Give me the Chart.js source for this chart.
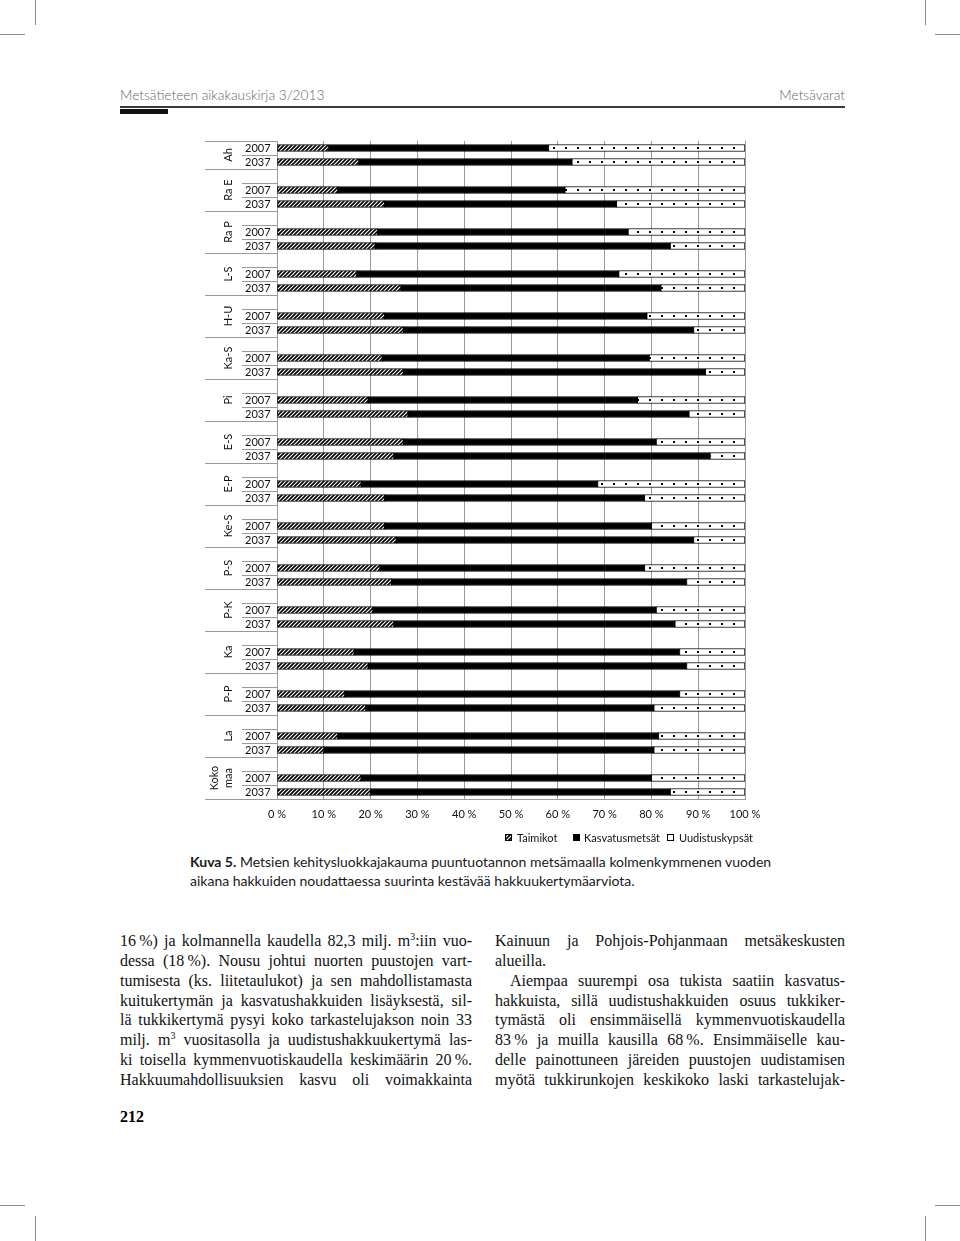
<!DOCTYPE html>
<html>
<head>
<meta charset="utf-8">
<script src="https://cdn.jsdelivr.net/npm/chart.js@4.4.0/dist/chart.umd.min.js"></script>
<style>
  body { margin: 0; width: 960px; height: 1241px; position: relative; background: #fff; overflow: hidden; }
  .mark { position: absolute; background: #8c8c8c; }
  .hdr { position: absolute; top: 86px; font-family: Lato, sans-serif; font-weight: 300; font-size: 13.7px; color: #666; }
  .rule { position: absolute; left: 120px; top: 106px; width: 725px; height: 2px; background: #3a3a3a; }
  .tab { position: absolute; left: 120px; top: 109px; width: 48px; height: 5px; background: #111; }
  #wrap { position: absolute; left: 200px; top: 129px; width: 570px; height: 720px; }
  .cap { position: absolute; left: 190px; font-family: Lato, sans-serif; font-size: 14px; color: #1a1a1a; white-space: nowrap; }
  .col { position: absolute; top: 931px; font-family: "Liberation Serif", serif; font-size: 16px; line-height: 19.85px; color: #111; }
  .col div { white-space: nowrap; text-align: justify; text-align-last: justify; }
  .col div.end { text-align-last: left; }
  .col sup { font-size: 10px; line-height: 0; vertical-align: 6px; }
  .pg { position: absolute; left: 120px; top: 1108px; font-family: "Liberation Serif", serif; font-weight: bold; font-size: 16px; }
</style>
</head>
<body>
<div class="mark" style="left:35px;top:0;width:1px;height:25px"></div>
<div class="mark" style="left:0;top:34px;width:25px;height:1px"></div>
<div class="mark" style="left:925px;top:0;width:1px;height:25px"></div>
<div class="mark" style="left:935px;top:34px;width:25px;height:1px"></div>
<div class="mark" style="left:35px;top:1216px;width:1px;height:25px"></div>
<div class="mark" style="left:0;top:1205px;width:25px;height:1px"></div>
<div class="mark" style="left:925px;top:1216px;width:1px;height:25px"></div>
<div class="mark" style="left:935px;top:1205px;width:25px;height:1px"></div>

<div class="hdr" style="left:120px">Metsätieteen aikakauskirja 3/2013</div>
<div class="hdr" style="right:115px">Metsävarat</div>
<div class="rule"></div>
<div class="tab"></div>

<div id="wrap"><canvas id="chart" width="570" height="720"></canvas></div>

<div class="cap" style="top:853px"><b>Kuva 5.</b> Metsien kehitysluokkajakauma puuntuotannon metsämaalla kolmenkymmenen vuoden</div>
<div class="cap" style="top:872px">aikana hakkuiden noudattaessa suurinta kestävää hakkuukertymäarviota.</div>

<div class="col" style="left:120px;width:352px">
  <div>16&#8201;%) ja kolmannella kaudella 82,3 milj. m<sup>3</sup>:iin vuo-</div>
  <div>dessa (18&#8201;%). Nousu johtui nuorten puustojen vart-</div>
  <div>tumisesta (ks. liitetaulukot) ja sen mahdollistamasta</div>
  <div>kuitukertymän ja kasvatushakkuiden lisäyksestä, sil-</div>
  <div>lä tukkikertymä pysyi koko tarkastelujakson noin 33</div>
  <div>milj. m<sup>3</sup> vuositasolla ja uudistushakkuukertymä las-</div>
  <div>ki toisella kymmenvuotiskaudella keskimäärin 20&#8201;%.</div>
  <div>Hakkuumahdollisuuksien kasvu oli voimakkainta</div>
</div>
<div class="col" style="left:495px;width:350px">
  <div>Kainuun ja Pohjois-Pohjanmaan metsäkeskusten</div>
  <div class="end">alueilla.</div>
  <div style="padding-left:15px">Aiempaa suurempi osa tukista saatiin kasvatus-</div>
  <div>hakkuista, sillä uudistushakkuiden osuus tukkiker-</div>
  <div>tymästä oli ensimmäisellä kymmenvuotiskaudella</div>
  <div>83&#8201;% ja muilla kausilla 68&#8201;%. Ensimmäiselle kau-</div>
  <div>delle painottuneen järeiden puustojen uudistamisen</div>
  <div>myötä tukkirunkojen keskikoko laski tarkastelujak-</div>
</div>
<div class="pg">212</div>

<script>
// regions, top to bottom
const regions = ['Ah', 'Ra E', 'Ra P', 'L-S', 'H-U', 'Ka-S', 'Pi', 'E-S', 'E-P', 'Ke-S', 'P-S', 'P-K', 'Ka', 'P-P', 'La', 'Koko\nmaa'];
const years = ['2007', '2037'];
const seriesNames = ['Taimikot', 'Kasvatusmetsät', 'Uudistuskypsät'];

// shares in %
const taimikot2007 = [11, 13, 21.5, 17, 23, 22.5, 19.5, 27, 18, 23, 22, 20.5, 16.5, 14.5, 13, 18];
const taimikot2037 = [17.5, 23, 21, 26.5, 27, 27, 28, 25, 23, 25.5, 24.5, 25, 19.5, 19, 10, 20];
const kasvatus2007 = [47, 48.5, 53.5, 56, 56, 57, 57.5, 54, 50.5, 57, 56.5, 60.5, 69.5, 71.5, 68.5, 62];
const kasvatus2037 = [45.5, 49.5, 63, 55.5, 62, 64.5, 60, 67.5, 55.5, 63.5, 63, 60, 68, 61.5, 70.5, 64];
const uudistus2007 = [42, 38.5, 25, 27, 21, 20.5, 23, 19, 31.5, 20, 21.5, 19, 14, 14, 18.5, 20];
const uudistus2037 = [37, 27.5, 16, 18, 11, 8.5, 12, 7.5, 21.5, 11, 12.5, 15, 12.5, 19.5, 19.5, 16];

const xTicks = [0, 10, 20, 30, 40, 50, 60, 70, 80, 90, 100];

// rows: a blank row between regions, then 2007 and 2037
const labels = [], rowT = [], rowK = [], rowU = [];
regions.forEach((r, i) => {
  if (i > 0) { labels.push(''); rowT.push(null); rowK.push(null); rowU.push(null); }
  labels.push(years[0]); rowT.push(taimikot2007[i]); rowK.push(kasvatus2007[i]); rowU.push(uudistus2007[i]);
  labels.push(years[1]); rowT.push(taimikot2037[i]); rowK.push(kasvatus2037[i]); rowU.push(uudistus2037[i]);
});

const ctx0 = document.getElementById('chart').getContext('2d');

function hatchPattern() {
  const c = document.createElement('canvas');
  c.width = 4; c.height = 4;
  const g = c.getContext('2d');
  g.fillStyle = '#fff'; g.fillRect(0, 0, 4, 4);
  g.strokeStyle = '#000'; g.lineWidth = 1.7;
  g.beginPath();
  g.moveTo(0, 4); g.lineTo(4, 0);
  g.moveTo(-1, 1); g.lineTo(1, -1);
  g.moveTo(3, 5); g.lineTo(5, 3);
  g.stroke();
  return ctx0.createPattern(c, 'repeat');
}

function dotPattern() {
  const c = document.createElement('canvas');
  c.width = 12; c.height = 14;
  const g = c.getContext('2d');
  g.fillStyle = '#fff'; g.fillRect(0, 0, 12, 14);
  g.fillStyle = '#000'; g.fillRect(5, 4, 2, 2);
  return ctx0.createPattern(c, 'repeat');
}

const hatch = hatchPattern();
const dots = dotPattern();
const FONT = 'Lato, "Open Sans", sans-serif';

// year labels, region labels, category separators and legend
const axisLabels = {
  id: 'axisLabels',
  afterDraw(chart) {
    const { ctx, scales: { y }, chartArea: a } = chart;
    const n = labels.length;
    const slot = (a.bottom - a.top) / n;
    ctx.save();
    ctx.strokeStyle = '#9a9a9a';
    ctx.lineWidth = 1;
    for (let i = 0; i <= n; i++) {
      const yy = Math.round(a.top + i * slot) + 0.5;
      const long = i === 0 || i === n || labels[i] === '';
      ctx.beginPath();
      ctx.moveTo(long ? 5 : 42, yy);
      ctx.lineTo(a.left, yy);
      ctx.stroke();
    }
    ctx.fillStyle = '#111';
    ctx.font = '11px ' + FONT;
    ctx.textBaseline = 'middle';
    ctx.textAlign = 'left';
    labels.forEach((l, i) => {
      if (l) ctx.fillText(l, 45, y.getPixelForValue(i));
    });
    regions.forEach((r, i) => {
      const top = a.top + (i === 0 ? 0 : 3 * i - 1) * slot;
      const bot = a.top + (3 * i + 2) * slot;
      const lines = r.split('\n');
      lines.forEach((t, k) => {
        ctx.save();
        ctx.translate(28 - (lines.length - 1 - k) * 14, (top + bot) / 2);
        ctx.rotate(-Math.PI / 2);
        ctx.textAlign = 'center';
        ctx.fillText(t, 0, 0);
        ctx.restore();
      });
    });
    // legend
    const items = [[305, 317, hatch], [373, 384, '#000'], [467, 479, '#fff']];
    items.forEach(([bx, tx, fill], k) => {
      ctx.fillStyle = fill;
      ctx.fillRect(bx, 705, 7, 7);
      ctx.strokeStyle = '#000';
      ctx.strokeRect(bx + 0.5, 705.5, 6, 6);
      ctx.fillStyle = '#111';
      ctx.fillText(seriesNames[k], tx, 709);
    });
    ctx.restore();
  }
};

const common = { borderColor: '#000', borderWidth: 1, borderSkipped: false, barThickness: 7 };

new Chart(ctx0, {
  type: 'bar',
  data: {
    labels: labels,
    datasets: [
      Object.assign({ label: seriesNames[0], data: rowT, backgroundColor: hatch }, common),
      Object.assign({ label: seriesNames[1], data: rowK, backgroundColor: '#000' }, common),
      Object.assign({ label: seriesNames[2], data: rowU, backgroundColor: dots }, common)
    ]
  },
  options: {
    indexAxis: 'y',
    responsive: false,
    animation: false,
    layout: { padding: { top: 12, right: 25, bottom: 10, left: 0 } },
    plugins: { legend: { display: false }, tooltip: { enabled: false } },
    scales: {
      x: {
        stacked: true,
        min: 0, max: 100,
        afterBuildTicks(axis) { axis.ticks = xTicks.map(v => ({ value: v })); },
        afterFit(axis) { axis.height = 40; },
        grid: { color: '#9a9a9a', drawTicks: false },
        border: { color: '#9a9a9a' },
        ticks: { color: '#111', padding: 9, font: { family: FONT, size: 11 }, callback: v => v + ' %' }
      },
      y: {
        stacked: true,
        afterFit(axis) { axis.width = 77; },
        grid: { display: false },
        border: { display: false },
        ticks: { display: false }
      }
    }
  },
  plugins: [axisLabels]
});
</script>
</body>
</html>
